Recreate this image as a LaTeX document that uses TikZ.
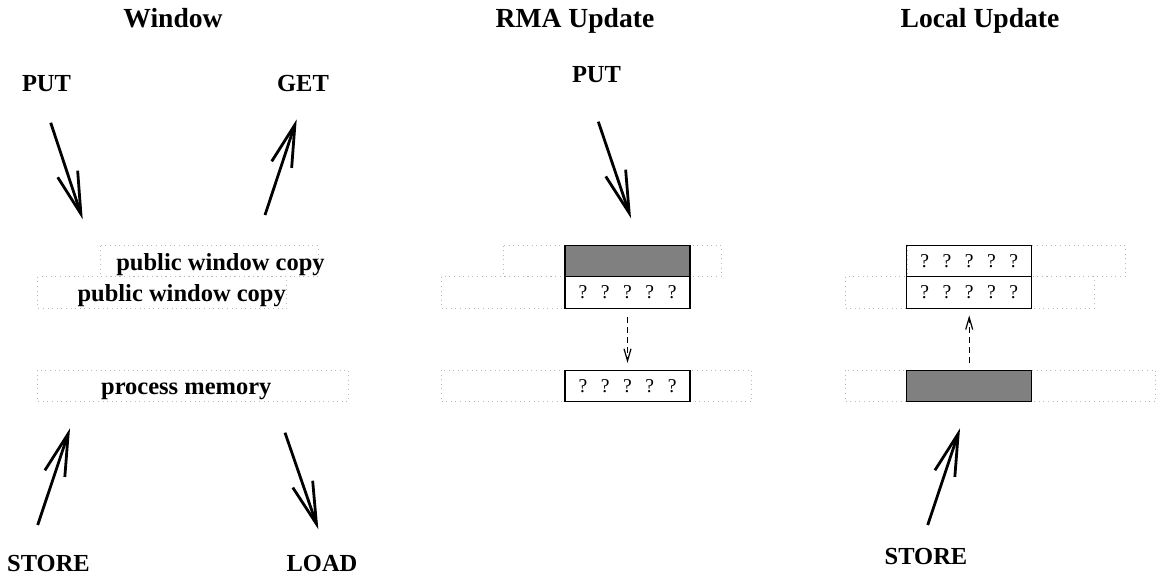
\documentclass[tikz,border=0pt]{standalone}
\usepackage{fontspec}
\setmainfont{Liberation Serif}
\usetikzlibrary{arrows.meta}
\definecolor{boxgray}{RGB}{128,128,128}
\tikzset{
  title/.style={font=\fontsize{13.8}{16}\selectfont\bfseries, anchor=base, inner sep=0pt},
  lbl/.style={font=\fontsize{12.25}{14}\selectfont\bfseries, anchor=base, inner sep=0pt},
  dotbox/.style={draw=black!28, line width=0.4pt, dash pattern=on 0.4pt off 1.9pt},
  cell/.style={draw=black, line width=0.6pt, minimum width=62.5pt, minimum height=15.7pt, inner sep=0pt,
     font=\fontsize{9.8}{11}\selectfont},
  darkcell/.style={cell, fill=boxgray},
  bigarrow/.style={line width=1.4pt, -{Straight Barb[sharp, length=21pt, width=10.5pt]}},
  dasharrow/.style={line width=0.6pt, dash pattern=on 2.8pt off 2.2pt, -{Straight Barb[sharp, length=6pt, width=3.5pt]}},
}
\newcommand{\qrow}{?\hspace{6.8pt}?\hspace{6.8pt}?\hspace{6.8pt}?\hspace{6.8pt}?}
\begin{document}
\begin{tikzpicture}[x=0.5pt, y=-0.5pt]
\useasboundingbox (0,0) rectangle (1165,578);
% titles
\node[title] (tWin) at (173,27.5) {Window};
\node[title] (tRMA) at (575,27.5) {RMA Update};
\node[title] (tLoc) at (980,27.5) {Local Update};
% left column dotted regions
\draw[dotbox] (100,245.5) rectangle (318,276.7);
\draw[dotbox] (37.7,276.7) rectangle (286.7,308.3);
\draw[dotbox] (37.7,370) rectangle (348.3,401.7);
% middle column dotted regions
\draw[dotbox] (503.3,245.5) rectangle (721.3,276.7);
\draw[dotbox] (441,276.7) rectangle (690,308.3);
\draw[dotbox] (441,370) rectangle (751.6,401.7);
% right column dotted regions
\draw[dotbox] (907.3,245.5) rectangle (1125.3,276.7);
\draw[dotbox] (845,276.7) rectangle (1094,308.3);
\draw[dotbox] (845,370) rectangle (1155.6,401.7);
% left column labels
\node[lbl] (pwc1) at (220.5,270.5) {public window copy};
\node[lbl] (pwc2) at (181.7,301) {public window copy};
\node[lbl] (pmem) at (186.3,394) {process memory};
\node[lbl] (putL) at (46.5,91.7) {PUT};
\node[lbl] (getL) at (303,91.7) {GET};
\node[lbl] (storeL) at (48.5,571) {STORE};
\node[lbl] (loadL) at (322,571) {LOAD};
% left column arrows
\coordinate (a1s) at (50.7,122.7); \coordinate (a1e) at (82.7,219.3);
\coordinate (a2s) at (265,215);    \coordinate (a2e) at (296.7,119.3);
\coordinate (a3s) at (37.7,525);   \coordinate (a3e) at (70,428.3);
\coordinate (a4s) at (285,432.7);  \coordinate (a4e) at (318.3,529.3);
\draw[bigarrow] (a1s) -- (a1e);
\draw[bigarrow] (a2s) -- (a2e);
\draw[bigarrow] (a3s) -- (a3e);
\draw[bigarrow] (a4s) -- (a4e);
% middle column
\node[lbl] (putM) at (596.5,82.5) {PUT};
\coordinate (a5s) at (598.3,121.7); \coordinate (a5e) at (631,218.3);
\draw[bigarrow] (a5s) -- (a5e);
\node[darkcell] (m1) at (627.5,261.1) {};
\node[cell] (m2) at (627.5,292.5) {\qrow};
\node[cell] (m3) at (627.5,385.8) {\qrow};
\draw[dasharrow, shorten <=4.2pt, shorten >=3.3pt] (m2.south) -- (m3.north);
% right column
\node[cell] (r1) at (969.2,261.1) {\qrow};
\node[cell] (r2) at (969.2,292.5) {\qrow};
\node[darkcell] (r3) at (969.2,385.8) {};
\draw[dasharrow, shorten <=3.3pt, shorten >=3.3pt] (r3.north) -- (r2.south);
\node[lbl] (storeR) at (926,564.5) {STORE};
\coordinate (a6s) at (927.7,525); \coordinate (a6e) at (960,428.3);
\draw[bigarrow] (a6s) -- (a6e);
\end{tikzpicture}
\end{document}
